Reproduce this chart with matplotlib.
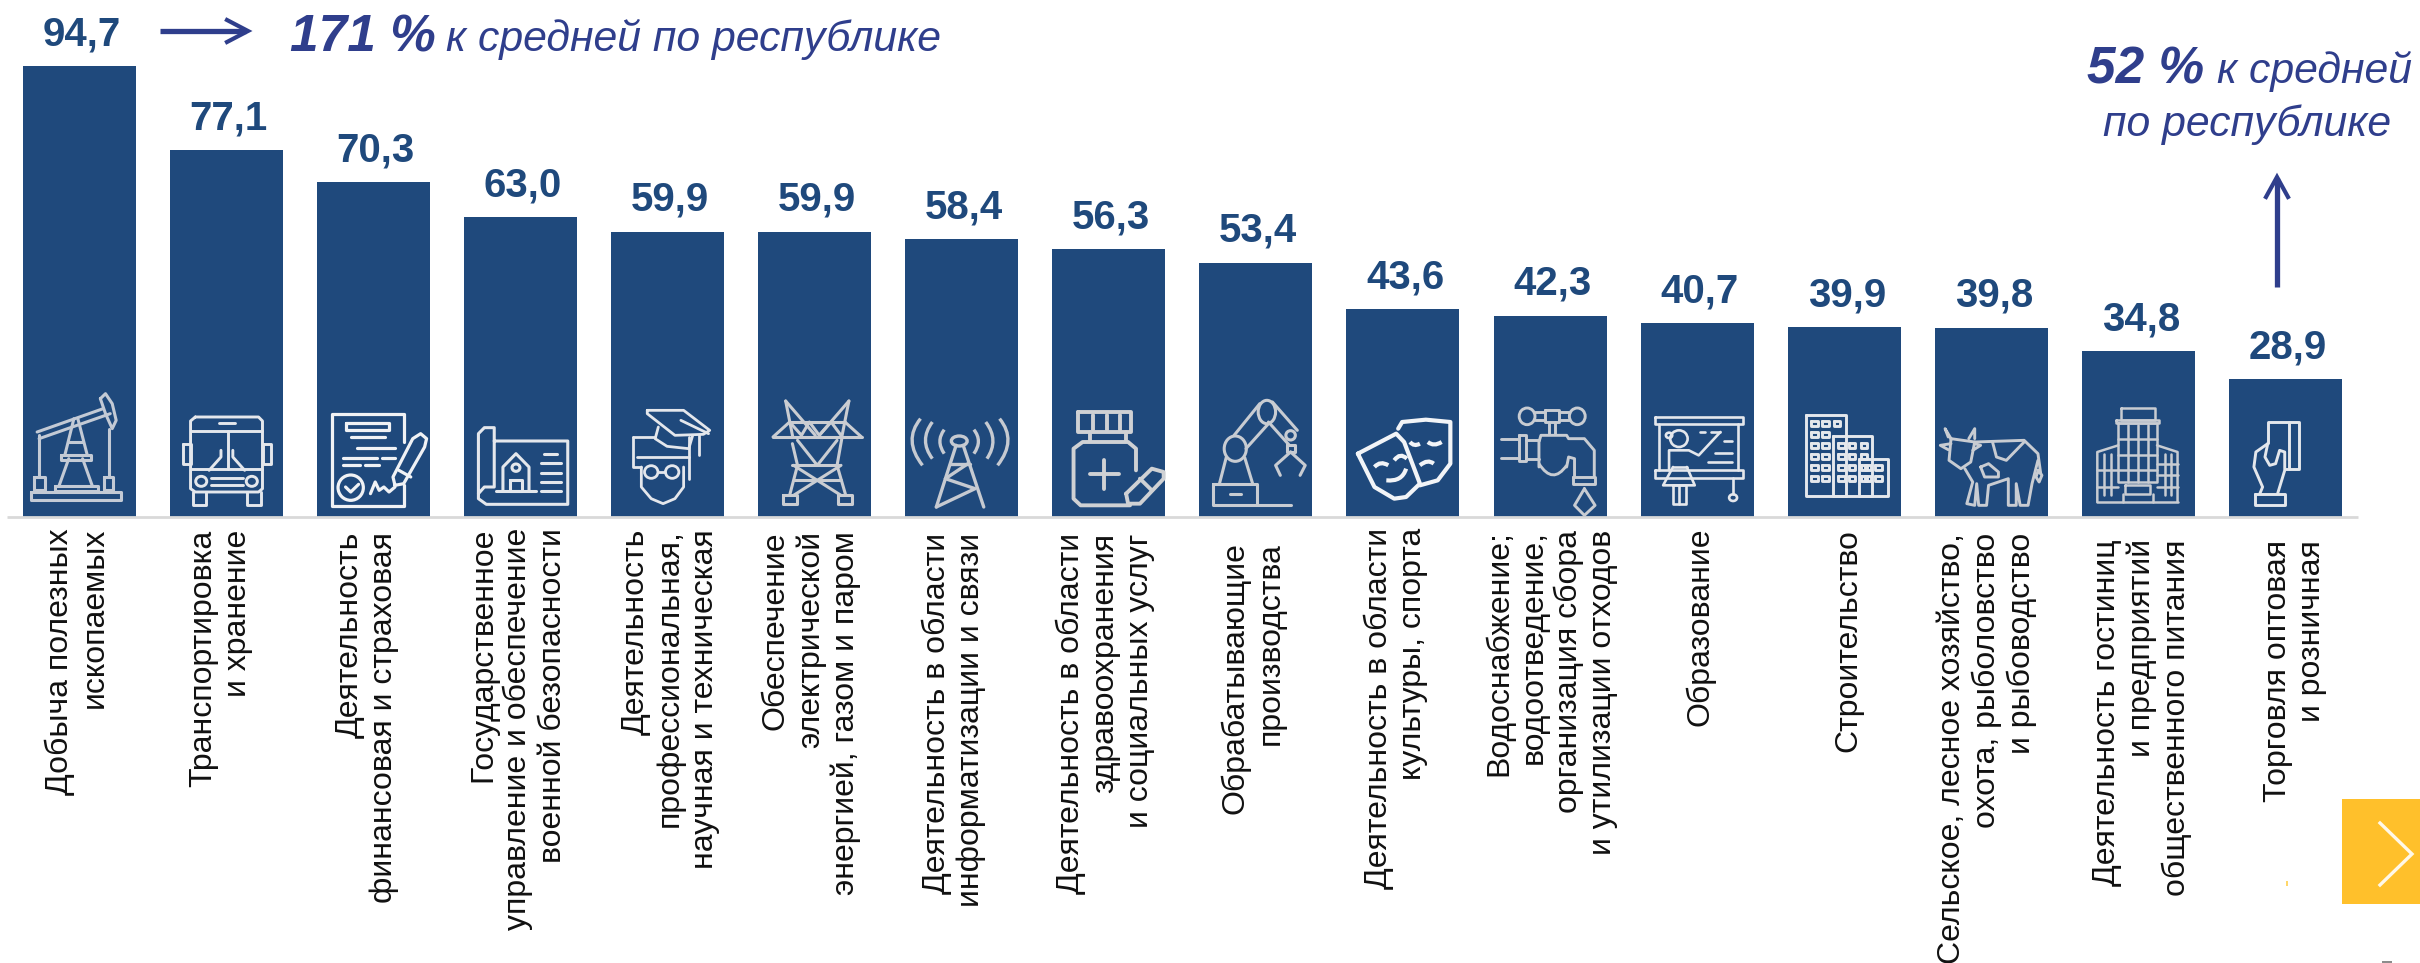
import matplotlib
matplotlib.use('Agg')
import matplotlib.pyplot as plt
from matplotlib.lines import Line2D
from matplotlib.patches import Ellipse, PathPatch, Rectangle
from matplotlib.path import Path
from matplotlib.transforms import Affine2D

# ---------- data ----------
categories = [
    "Добыча полезных\nископаемых",
    "Транспортировка\nи хранение",
    "Деятельность\nфинансовая и страховая",
    "Государственное\nуправление и обеспечение\nвоенной безопасности",
    "Деятельность\nпрофессиональная,\nнаучная и техническая",
    "Обеспечение\nэлектрической\nэнергией, газом и паром",
    "Деятельность в области\nинформатизации и связи",
    "Деятельность в области\nздравоохранения\nи социальных услуг",
    "Обрабатывающие\nпроизводства",
    "Деятельность в области\nкультуры, спорта",
    "Водоснабжение;\nводоотведение,\nорганизация сбора\nи утилизации отходов",
    "Образование",
    "Строительство",
    "Сельское, лесное хозяйство,\nохота, рыболовство\nи рыбоводство",
    "Деятельность гостиниц\nи предприятий\nобщественного питания",
    "Торговля оптовая\nи розничная",
]
values = [94.7, 77.1, 70.3, 63.0, 59.9, 59.9, 58.4, 56.3, 53.4, 43.6, 42.3, 40.7, 39.9, 39.8, 34.8, 28.9]
value_labels = ["94,7", "77,1", "70,3", "63,0", "59,9", "59,9", "58,4", "56,3",
                "53,4", "43,6", "42,3", "40,7", "39,9", "39,8", "34,8", "28,9"]

# ---------- layout ----------
W, H = 2420, 963
PX_X, PX_Y = 147.1, 4.76      # pixels per category / per unit
X0, Y0 = 79, 517              # pixel of first category, pixel of zero
BAR_W = 113 / PX_X
BLUE = '#1F497C'
INK = '#2F3E8C'
ICON = '#E4E7EC'
FONT = ['Liberation Sans', 'DejaVu Sans']
plt.rcParams['font.family'] = FONT

label_center_px = [77, 221, 367, 518, 670, 811, 954, 1105, 1253, 1396, 1551, 1700, 1848, 1987, 2142, 2295]
label_top_px = [528, 530, 532, 528, 529, 531, 533, 533, 542, 528, 530, 528, 529, 533, 539, 540]
LABEL_FS = 23.0
LINE_SP = 1.2

fig = plt.figure(figsize=(W / 100, H / 100), dpi=100, facecolor='white')
ax = fig.add_axes([0, 0, 1, 1])
ax.set_xlim(-X0 / PX_X, (W - X0) / PX_X)
ax.set_ylim(-(H - Y0) / PX_Y, Y0 / PX_Y)
ax.axis('off')

xs = list(range(len(values)))
ax.bar(xs, values, width=BAR_W, bottom=0, color=BLUE, linewidth=0, zorder=2)
ax.plot([(7 - X0) / PX_X, (2358 - X0) / PX_X], [0, 0], color='#D9D9D9', lw=2.0, zorder=3,
        solid_capstyle='butt')

for i, v in enumerate(values):
    ax.text(i + 2.5 / PX_X, v + 21 / PX_Y, value_labels[i], ha='center', va='baseline',
            fontsize=29, fontweight='bold', color=BLUE, zorder=4)

for i, lab in enumerate(categories):
    ax.text((label_center_px[i] - X0) / PX_X, (Y0 - label_top_px[i]) / PX_Y, lab,
            rotation=90, ha='center', va='top', multialignment='right',
            fontsize=LABEL_FS, linespacing=LINE_SP, color='#111111', zorder=4)


def T(x, y, s, **kw):
    fig.text(x / W, 1 - y / H, s, va='baseline', color=INK, style='italic', **kw)


T(290, 51, "171 %", fontsize=37, fontweight='bold', ha='left')
T(446, 51, "к средней по республике", fontsize=30.8, ha='left')
T(2087, 83, "52 %", fontsize=37, fontweight='bold', ha='left')
T(2217, 83, "к средней", fontsize=30.8, ha='left')
T(2247, 136, "по республике", fontsize=30.8, ha='center')


def L(xy, lw, color=INK, **kw):
    fig.add_artist(Line2D([p[0] / W for p in xy], [1 - p[1] / H for p in xy], color=color, lw=lw,
                          solid_joinstyle='miter', **kw))


L([(160, 31), (246, 31)], 3.8, solid_capstyle='butt')
L([(227, 20), (248, 31), (227, 42)], 3.0)
L([(2277, 287), (2277, 178)], 3.8, solid_capstyle='butt')
L([(2266, 197), (2277, 177), (2288, 197)], 3.0)

# corner button and stray specks
fig.add_artist(Rectangle((2342 / W, 1 - 904 / H), 78 / W, 105 / H, transform=fig.transFigure,
                         facecolor='#FFC02B', edgecolor='none'))
L([(2380, 823), (2412, 854), (2380, 885)], 2.4, color='#FFF8E8')
fig.add_artist(Rectangle((2286 / W, 1 - 886 / H), 2 / W, 5 / H, transform=fig.transFigure,
                         facecolor='#FFD76A', edgecolor='none'))
fig.add_artist(Rectangle((2382 / W, 1 - 963 / H), 10 / W, 2 / H, transform=fig.transFigure,
                         facecolor='#8C8C8C', edgecolor='none'))


# ---------- pictograms (decoration inside the bars, drawn in a local grid) ----------
def rect(x0, y0, x1, y1):
    return [(x0, y0), (x1, y0), (x1, y1), (x0, y1), (x0, y0)]


def seg(*pts):
    return list(pts)


def windows(xs_, ys_, s=8):
    return [rect(x - s, y - s, x + s, y + s) for x in xs_ for y in ys_]


icons = {
    0: dict(left=58, lw=2.2, color='#C3CAD5', lines=[
        rect(80, 365, 308, 390), rect(140, 348, 250, 362),
        seg((150, 348), (175, 265)), seg((235, 348), (210, 265)), rect(155, 255, 232, 268),
        seg((165, 255), (188, 145)), seg((222, 255), (198, 145)), seg((175, 215), (212, 215)),
        seg((95, 185), (262, 115)), seg((100, 205), (280, 130)),
        seg((255, 85), (268, 70), (285, 100), (295, 150), (285, 175), (268, 130), (255, 85)),
        seg((100, 195), (100, 320)), seg((276, 175), (276, 320)),
        rect(88, 320, 115, 360), rect(264, 320, 288, 360)]),
    1: dict(left=430, lw=2.1, color=ICON, lines=[
        seg((495, 140), (655, 140), (665, 152), (665, 355), (655, 365), (495, 365), (483, 355), (483, 152), (495, 140)),
        seg((483, 183), (665, 183)), seg((578, 183), (578, 295)), seg((483, 295), (665, 295)),
        seg((535, 322), (615, 322)), seg((535, 345), (615, 345)),
        rect(465, 222, 483, 280), rect(667, 222, 687, 280),
        seg((490, 365), (490, 403), (522, 403), (522, 365)), seg((625, 365), (625, 403), (660, 403), (660, 365)),
        seg((530, 300), (560, 260), (560, 240)), seg((620, 300), (590, 260), (590, 240)),
        seg((555, 159), (595, 159))],
        ell=[(510, 333, 14, 15), (638, 333, 14, 15)]),
    2: dict(left=802, lw=2.3, color='#F0F2F5', lines=[
        seg((1023, 215), (1023, 130), (840, 130), (840, 408), (1023, 408), (1023, 345)),
        rect(875, 158, 985, 180), seg((890, 200), (975, 200)), seg((905, 232), (1000, 232)),
        seg((868, 262), (955, 262)), seg((968, 262), (1000, 262)),
        seg((868, 285), (912, 285)), seg((925, 285), (960, 285)),
        seg((875, 350), (888, 365), (908, 342)),
        seg((938, 370), (950, 335), (960, 360), (972, 350), (985, 365), (1000, 350)),
        seg((1000, 345), (995, 320), (1045, 205), (1065, 190), (1080, 205), (1075, 230), (1022, 340), (1000, 345)),
        seg((1010, 300), (1040, 320))],
        ell=[(888, 352, 32, 38)]),
    3: dict(left=1173, lw=2.2, color=ICON, lines=[
        seg((1250, 212), (1436, 212), (1436, 402), (1230, 402), (1210, 385), (1210, 190), (1225, 172), (1250, 172),
            (1250, 350), (1225, 350), (1210, 370)),
        seg((1255, 362), (1355, 362)), seg((1272, 362), (1272, 290), (1305, 250), (1338, 290), (1338, 362)),
        rect(1290, 330, 1320, 362), seg((1375, 250), (1408, 250)), seg((1368, 278), (1418, 278)),
        seg((1368, 308), (1418, 308)), seg((1368, 336), (1418, 336)), seg((1368, 362), (1418, 362))],
        ell=[(1305, 292, 10, 11)]),
    4: dict(left=28, lw=2.0, color=ICON, lines=[
        seg((120, 120), (212, 120), (278, 180), (262, 192), (190, 195), (120, 130), (120, 120)),
        seg((205, 150), (275, 190)), seg((250, 195), (250, 255)),
        seg((148, 170), (140, 205), (170, 228), (225, 235), (235, 195)),
        seg((85, 200), (140, 200)), seg((85, 200), (85, 290), (105, 290)), seg((95, 260), (225, 260)),
        seg((105, 290), (105, 350), (130, 385), (160, 400), (190, 385), (212, 350), (212, 290)),
        seg((225, 200), (225, 325)), seg((147, 305), (166, 305))],
        ell=[(130, 305, 17, 19), (183, 305, 17, 19)]),
    5: dict(left=400, lw=2.2, color='#CACDD2', lines=[
        seg((470, 92), (488, 200)), seg((470, 92), (545, 195)), seg((630, 92), (612, 200)), seg((630, 92), (555, 195)),
        seg((480, 155), (620, 155)), seg((438, 200), (662, 200)), seg((438, 200), (480, 155)), seg((662, 200), (620, 155)),
        seg((480, 155), (510, 195), (530, 155), (555, 195), (585, 155), (610, 195)),
        seg((487, 220), (500, 285), (480, 375)), seg((612, 205), (600, 285), (622, 375)),
        seg((487, 285), (605, 285)), seg((500, 210), (550, 285), (600, 210)),
        seg((490, 328), (610, 328)), seg((490, 285), (610, 375)), seg((610, 285), (490, 375)),
        rect(462, 375, 498, 400), rect(602, 375, 638, 400)]),
    6: dict(left=771, lw=2.4, color='#C6CAD1', lines=[
        seg((900, 225), (850, 410)), seg((918, 225), (970, 410)), seg((885, 280), (935, 280)),
        seg((873, 325), (948, 355), (850, 410)), seg((873, 325), (930, 280))],
        ell=[(908, 212, 20, 15)],
        curves=[((870, 178), (848, 212), (870, 250)), ((840, 155), (805, 210), (840, 265)),
                ((810, 145), (765, 210), (815, 285)), ((945, 178), (968, 212), (945, 250)),
                ((975, 155), (1010, 210), (978, 265)), ((1010, 145), (1055, 210), (1005, 285))]),
    7: dict(left=1143, lw=2.8, color='#CFD1D4', lines=[
        rect(1208, 125, 1342, 185), seg((1245, 135), (1245, 180)), seg((1282, 135), (1282, 180)),
        seg((1315, 135), (1315, 180)), seg((1238, 185), (1238, 212)), seg((1330, 185), (1330, 212)),
        seg((1355, 300), (1355, 235), (1335, 215), (1220, 215), (1197, 235), (1197, 385), (1215, 405), (1340, 405)),
        seg((1275, 268), (1275, 355)), seg((1238, 312), (1312, 312)),
        seg((1330, 370), (1395, 295), (1425, 305), (1425, 325), (1365, 400), (1335, 400), (1330, 370)),
        seg((1365, 325), (1395, 360))]),
    8: dict(left=-3, lw=2.2, color='#C8CCD2', lines=[
        rect(32, 340, 142, 405), seg((142, 405), (228, 405)), seg((75, 370), (102, 370)),
        seg((48, 340), (65, 262)), seg((132, 340), (112, 262)), seg((85, 195), (150, 100)), seg((115, 235), (172, 160)),
        seg((182, 95), (245, 180)), seg((172, 155), (225, 225)), rect(218, 225, 238, 245),
        seg((228, 245), (190, 285), (202, 315)), seg((228, 245), (265, 285), (252, 315))],
        ell=[(88, 235, 28, 38), (168, 125, 22, 35), (228, 195, 12, 14)]),
    9: dict(left=369, lw=3.0, color='#F2F4F7', lines=[
        seg((398, 250), (495, 190), (515, 215), (555, 340), (520, 380), (490, 385), (440, 350), (398, 250)),
        seg((500, 175), (510, 155), (570, 148), (632, 155), (632, 280), (600, 330), (555, 345))],
        curves=[((440, 290), (455, 270), (475, 285)), ((490, 270), (505, 245), (522, 265)),
                ((470, 330), (510, 335), (520, 295)), ((530, 215), (540, 230), (555, 220)),
                ((575, 215), (590, 230), (610, 215)), ((555, 285), (575, 265), (590, 280))]),
    10: dict(left=740, lw=2.1, color='#C8CCD2', lines=[
        rect(870, 118, 905, 155), seg((845, 125), (870, 125)), seg((845, 150), (870, 150)),
        seg((905, 125), (930, 125)), seg((905, 150), (930, 150)), seg((880, 155), (880, 190)), seg((895, 155), (895, 190)),
        seg((855, 290), (855, 215), (860, 195), (925, 195), (930, 205), (970, 205), (995, 240), (995, 320)),
        seg((945, 320), (945, 265), (930, 260), (925, 290)), rect(942, 320, 998, 340), rect(805, 195, 822, 272),
        seg((822, 210), (855, 210)), seg((822, 265), (855, 265)), seg((760, 205), (805, 205)), seg((760, 262), (805, 262)),
        seg((970, 355), (945, 405), (970, 435), (997, 405), (970, 355))],
        ell=[(825, 138, 20, 25), (952, 138, 20, 25)],
        curves=[((855, 280), (890, 345), (925, 285))]),
    11: dict(left=1118, lw=1.9, color=ICON, lines=[
        rect(1155, 140, 1377, 160), seg((1165, 160), (1165, 300)), seg((1365, 160), (1365, 300)),
        rect(1155, 300, 1377, 322), seg((1352, 322), (1352, 370)),
        seg((1200, 290), (1175, 345), (1255, 345), (1235, 290)),
        seg((1190, 300), (1190, 240), (1240, 240), (1265, 255), (1320, 185)), seg((1200, 290), (1235, 290)),
        rect(1200, 345, 1232, 402), seg((1216, 345), (1216, 402)),
        seg((1268, 185), (1280, 185)), seg((1295, 185), (1320, 185)), seg((1328, 212), (1348, 212)),
        seg((1305, 248), (1348, 248)), seg((1288, 275), (1348, 275))],
        ell=[(1352, 382, 10, 10), (1215, 205, 22, 25), (1190, 195, 8, 8)]),
    12: dict(left=-28, lw=2.1, color=ICON, lines=[
        rect(18, 135, 120, 378), rect(87, 198, 185, 378), rect(153, 265, 226, 378),
        *windows([40, 68, 97], [160]), *windows([40, 68], [193, 226, 258, 291, 325]),
        *windows([108, 135, 165], [226, 258, 291, 325]), *windows([175, 202], [292, 325])]),
    13: dict(left=344, lw=2.1, color='#C8CCD2', lines=[
        seg((385, 205), (380, 270), (410, 295), (435, 275), (445, 215), (385, 205)),
        seg((385, 205), (370, 175), (378, 200)), seg((430, 205), (445, 175), (445, 205)),
        seg((385, 220), (358, 225), (378, 238)), seg((445, 220), (460, 225), (440, 240)),
        seg((445, 215), (570, 210), (605, 250), (612, 310)),
        seg((606, 300), (600, 320), (608, 335), (615, 315), (606, 300)),
        seg((420, 295), (440, 335), (425, 400), (445, 405), (450, 340), (455, 405), (475, 405), (480, 345), (530, 325),
            (530, 405), (550, 405), (550, 340), (560, 405), (580, 405), (590, 340), (605, 270)),
        seg((490, 215), (500, 260), (525, 270), (570, 215)),
        seg((460, 290), (480, 280), (505, 305), (505, 320), (470, 320), (460, 290))]),
    14: dict(left=716, lw=1.8, color='#C8CCD2', lines=[
        rect(815, 113, 900, 150), rect(802, 150, 912, 158), rect(808, 158, 906, 335),
        seg((833, 165), (833, 335)), seg((858, 165), (858, 335)), seg((882, 165), (882, 335)),
        seg((808, 205), (906, 205)), seg((808, 255), (906, 255)), seg((808, 300), (906, 300)),
        seg((808, 225), (755, 245), (755, 395)), seg((906, 225), (958, 245), (958, 395)),
        seg((755, 395), (958, 395)), seg((772, 250), (772, 375)), seg((790, 250), (790, 375)),
        seg((925, 250), (925, 375)), seg((942, 250), (942, 375)), seg((755, 300), (808, 300)), seg((755, 350), (808, 350)),
        seg((906, 280), (958, 280)), seg((906, 315), (958, 315)), seg((906, 350), (958, 350)),
        rect(825, 345, 888, 370), seg((820, 370), (820, 395)), seg((895, 370), (895, 395))]),
    15: dict(left=1087, lw=2.1, color=ICON, lines=[
        seg((1185, 218), (1185, 155), (1265, 155), (1265, 295), (1228, 295)), seg((1240, 155), (1240, 295)),
        seg((1185, 220), (1155, 245), (1150, 290), (1172, 350), (1165, 370)), rect(1153, 370, 1228, 405),
        seg((1210, 370), (1228, 300), (1228, 245), (1215, 240), (1205, 280), (1190, 285), (1178, 260), (1185, 220))]),
}

for i, ic in icons.items():
    tr = (Affine2D().translate(-ic['left'], -440).scale(1 / 2.53 / PX_X, -1 / 3 / PX_Y)
          .translate(i - BAR_W / 2, 0) + ax.transData)
    kw = dict(color=ic['color'], lw=ic['lw'], transform=tr, zorder=3, solid_joinstyle='round', solid_capstyle='round')
    for pts in ic.get('lines', []):
        ax.plot([p[0] for p in pts], [p[1] for p in pts], **kw)
    for cx, cy, rx, ry in ic.get('ell', []):
        ax.add_patch(Ellipse((cx, cy), 2 * rx, 2 * ry, facecolor='none', edgecolor=ic['color'], lw=ic['lw'],
                             transform=tr, zorder=3))
    for c in ic.get('curves', []):
        ax.add_patch(PathPatch(Path(list(c), [Path.MOVETO, Path.CURVE3, Path.CURVE3]), facecolor='none',
                               edgecolor=ic['color'], lw=ic['lw'], transform=tr, zorder=3))

fig.savefig('out.png', dpi=100, facecolor='white')
